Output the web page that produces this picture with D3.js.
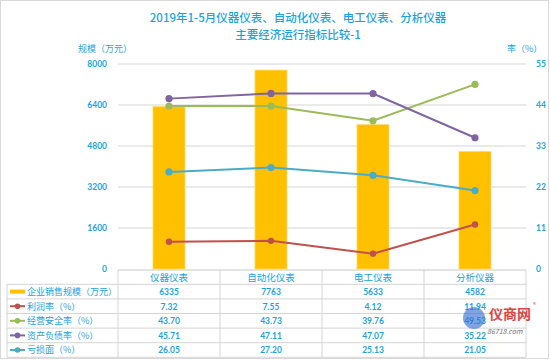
<!DOCTYPE html>
<html><head><meta charset="utf-8">
<script src="https://cdn.jsdelivr.net/npm/d3@7"></script>
<style>body{margin:0;background:#fff}svg{display:block;font-family:"Noto Sans CJK SC","Noto Sans",sans-serif}</style>
</head><body><svg id="c" width="550" height="360"></svg>
<script>
const categories = ["仪器仪表","自动化仪表","电工仪表","分析仪器"];
const salesScale = [6335, 7763, 5633, 4582];
const profitRate = [7.32, 7.55, 4.12, 11.94];
const safetyRate = [43.70, 43.73, 39.76, 49.53];
const debtRate = [45.71, 47.11, 47.07, 35.22];
const lossRate = [26.05, 27.20, 25.13, 21.05];
const leftTicks = [0, 1600, 3200, 4800, 6400, 8000];
const rightTicks = [0, 11, 22, 33, 44, 55];
const seriesNames = ["企业销售规模（万元）","利润率（%）","经营安全率（%）","资产负债率（%）","亏损面（%）"];
const seriesColors = ["#ffc000","#c0504d","#9bbb59","#8064a2","#4bacc6"];
const lineSeries = [profitRate, safetyRate, debtRate, lossRate];

const svg = d3.select("#c");
const blue = "#1ba3df";
const L = 118, R = 526, T = 64, B = 269;
const x = d3.scaleBand().domain(categories).range([L, R]);
const yL = d3.scaleLinear().domain([0, 8000]).range([B, T]);
const yR = d3.scaleLinear().domain([0, 55]).range([B, T]);

// border
svg.append("rect").attr("x",0.5).attr("y",0.5).attr("width",548).attr("height",358)
  .attr("fill","none").attr("stroke","#d9d9d9");

// title
svg.append("text").attr("x",298).attr("y",22).attr("text-anchor","middle")
  .attr("fill",blue).attr("font-size",11.5).attr("font-weight",500).text("2019年1-5月仪器仪表、自动化仪表、电工仪表、分析仪器");
svg.append("text").attr("x",298).attr("y",39).attr("text-anchor","middle")
  .attr("fill",blue).attr("font-size",11.5).attr("font-weight",500).text("主要经济运行指标比较-1");
svg.append("text").attr("x",78).attr("y",52).attr("fill",blue).attr("font-size",9).text("规模（万元）");
svg.append("text").attr("x",507).attr("y",52).attr("fill",blue).attr("font-size",9).text("率（%）");

// grid
svg.append("g").selectAll("line").data(leftTicks.slice(1)).join("line")
  .attr("x1",L).attr("x2",R).attr("y1",d=>yL(d)).attr("y2",d=>yL(d))
  .attr("stroke","#e3e3e3").attr("stroke-width",1.5);

// axes
const gl = svg.append("g").attr("transform",`translate(${L},0)`)
  .call(d3.axisLeft(yL).tickValues(leftTicks).tickFormat(d3.format("d")).tickSize(0).tickPadding(11));
gl.select(".domain").remove();
gl.selectAll("text").attr("fill",blue).attr("font-size",8.5).attr("font-weight","bold").attr("font-family","Lato, sans-serif");
const gr = svg.append("g").attr("transform",`translate(${R},0)`)
  .call(d3.axisRight(yR).tickValues(rightTicks).tickFormat(d3.format("d")).tickSize(0).tickPadding(10));
gr.select(".domain").remove();
gr.selectAll("text").attr("fill",blue).attr("font-size",8.5).attr("font-weight","bold").attr("font-family","Lato, sans-serif");

// bars
const bw = 32;
svg.append("g").selectAll("rect").data(salesScale).join("rect")
  .attr("x",(d,i)=>x(categories[i])+x.bandwidth()/2-bw/2).attr("width",bw)
  .attr("y",d=>yL(d)).attr("height",d=>B-yL(d))
  .attr("fill",seriesColors[0]).attr("stroke","#ffd966").attr("stroke-width",0.8);

// lines
const cx = i => x(categories[i]) + x.bandwidth()/2;
lineSeries.forEach((vals, k) => {
  const col = seriesColors[k+1];
  svg.append("path").datum(vals)
    .attr("d", d3.line().x((d,i)=>cx(i)).y(d=>yR(d)))
    .attr("fill","none").attr("stroke",col).attr("stroke-width",2);
  svg.append("g").selectAll("circle").data(vals).join("circle")
    .attr("cx",(d,i)=>cx(i)).attr("cy",d=>yR(d)).attr("r",k===0?3.2:3.6).attr("fill",col);
});

// table
const rowTop = 270, hdrH = 14.3, rowH = 14.6, legL = 7;
const tbl = svg.append("g");
const lineCol = "#d4d4d4";
tbl.append("line").attr("x1",L).attr("x2",R).attr("y1",rowTop).attr("y2",rowTop).attr("stroke","#c8c8c8");
for (let r = 0; r <= 5; r++) {
  const yy = rowTop + hdrH + r*rowH;
  tbl.append("line").attr("x1",legL).attr("x2",R).attr("y1",yy).attr("y2",yy).attr("stroke",lineCol);
}
const vxs = [L].concat(categories.map(c=>x(c)+x.bandwidth()));
vxs.forEach(v => tbl.append("line").attr("x1",v).attr("x2",v).attr("y1",rowTop).attr("y2",rowTop+hdrH+5*rowH).attr("stroke",lineCol));
tbl.append("line").attr("x1",legL).attr("x2",legL).attr("y1",rowTop+hdrH).attr("y2",rowTop+hdrH+5*rowH).attr("stroke",lineCol);
tbl.selectAll("text.h").data(categories).join("text").attr("class","h")
  .attr("x",d=>x(d)+x.bandwidth()/2).attr("y",rowTop+hdrH/2+3.5).attr("text-anchor","middle")
  .attr("fill",blue).attr("font-size",9.5).text(d=>d);
const allSeries = [salesScale, profitRate, safetyRate, debtRate, lossRate];
allSeries.forEach((vals, r) => {
  const yc = rowTop + hdrH + r*rowH + rowH/2;
  const col = seriesColors[r];
  if (r === 0) {
    tbl.append("rect").attr("x",10).attr("y",yc-2).attr("width",15).attr("height",4).attr("fill",col);
  } else {
    tbl.append("line").attr("x1",10).attr("x2",25).attr("y1",yc).attr("y2",yc).attr("stroke",col).attr("stroke-width",2);
    tbl.append("circle").attr("cx",17.5).attr("cy",yc).attr("r",2.8).attr("fill",col);
  }
  tbl.append("text").attr("x",27).attr("y",yc+3.3).attr("fill",blue).attr("font-size",9).text(seriesNames[r]);
  tbl.selectAll(null).data(vals).join("text")
    .attr("x",(d,i)=>cx(i)).attr("y",yc+3.3).attr("text-anchor","middle")
    .attr("fill",blue).attr("font-size",8.5).attr("font-weight","bold").attr("font-family","Lato, sans-serif")
    .text(d => r === 0 ? String(d) : d.toFixed(2));
});

// watermark
const wm = svg.append("g").attr("opacity",0.9);
wm.append("circle").attr("cx",474).attr("cy",318).attr("r",11).attr("fill","#3a6fd0").attr("opacity",0.7);
wm.append("text").attr("x",489).attr("y",319).attr("fill","#e0302a").attr("font-size",14).attr("font-weight","bold").text("仪商网");
wm.append("text").attr("x",533).attr("y",307).attr("fill","#e0302a").attr("font-size",6).text("®");
wm.append("text").attr("x",487).attr("y",334).attr("fill","#666").attr("font-size",7).attr("font-style","italic").text("86718.com");
</script></body></html>
